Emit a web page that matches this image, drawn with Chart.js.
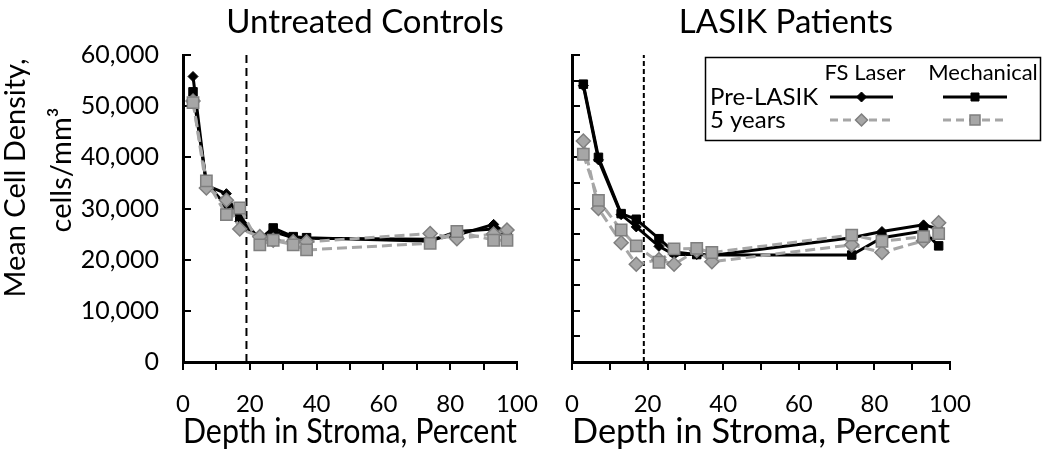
<!DOCTYPE html>
<html>
<head>
<meta charset="utf-8">
<script src="https://cdn.jsdelivr.net/npm/chart.js@4.4.1/dist/chart.umd.min.js"></script>
<style>
  body { margin: 0; background: #fff; }
  #wrap { position: relative; width: 1050px; height: 453px; }
  #left { position: absolute; left: 0; top: 0; }
  #right { position: absolute; left: 540px; top: 0; }
</style>
</head>
<body>
<div id="wrap">
  <canvas id="left" width="540" height="453"></canvas>
  <canvas id="right" width="510" height="453"></canvas>
</div>
<script>
// depth in stroma (%) where cell density was sampled
const depths = [3, 7, 13, 17, 23, 27, 33, 37, 74, 82, 93, 97];

// Untreated controls
const ctrlFsPre    = [55800, 34500, 32900, 27500, 23800, 25500, 24300, 24200, 24000, 24800, 26900, 25000];
const ctrlFsFive   = [51000, 34000, 31600, 26000, 24500, 23800, 23500, 23500, 25100, 24100, 25000, 25800];
const ctrlMechPre  = [52800, 35000, 30500, 28400, 24000, 26200, 24500, 24300, 23600, 25500, 26000, 24200];
const ctrlMechFive = [50700, 35400, 28800, 30100, 22900, 23800, 22900, 21900, 23200, 25500, 23800, 23800];

// LASIK patients
const lasikFsPre    = [54000, 39500, 28800, 26400, 22600, 21000, 21000, 20800, 24300, 25500, 26800, 26000];
const lasikFsFive   = [43200, 30000, 23300, 19100, 20000, 19100, 21800, 19600, 22900, 21400, 23700, 27200];
const lasikMechPre  = [54300, 40000, 29000, 27900, 24100, 21500, 21000, 20900, 20900, 24300, 25600, 22700];
const lasikMechFive = [40600, 31600, 25800, 22700, 19500, 22100, 22200, 21400, 24800, 23600, 24500, 25100];

// dashed reference line at ~19% depth
const refDepth = 19;
const yMax = 60000;

const FONT = 'Lato, "DejaVu Sans", sans-serif';
const GRAY = '#a6a6a6';
const GRAY_EDGE = '#7f7f7f';

function pts(vals) {
  return vals.map((v, i) => ({ x: depths[i], y: v }));
}

function buildDatasets(fsPre, fsFive, mechPre, mechFive, refDash) {
  return [
    { label: 'Mechanical 5 years', data: pts(mechFive), order: 1,
      borderColor: GRAY, borderWidth: 3, borderDash: [10, 5],
      pointStyle: 'rect', pointRadius: 8, pointBackgroundColor: GRAY,
      pointBorderColor: GRAY_EDGE, pointBorderWidth: 1.5 },
    { label: 'FS Laser 5 years', data: pts(fsFive), order: 2,
      borderColor: GRAY, borderWidth: 3, borderDash: [10, 5],
      pointStyle: 'rectRot', pointRadius: 7, pointBackgroundColor: GRAY,
      pointBorderColor: GRAY_EDGE, pointBorderWidth: 1.5 },
    { label: 'Mechanical Pre-LASIK', data: pts(mechPre), order: 3,
      borderColor: '#000', borderWidth: 3,
      pointStyle: 'rect', pointRadius: 6, pointBackgroundColor: '#000',
      pointBorderColor: '#000', pointBorderWidth: 1 },
    { label: 'FS Laser Pre-LASIK', data: pts(fsPre), order: 4,
      borderColor: '#000', borderWidth: 3,
      pointStyle: 'rectRot', pointRadius: 5, pointBackgroundColor: '#000',
      pointBorderColor: '#000', pointBorderWidth: 1 },
    { label: 'ref', data: [{ x: refDepth, y: 0 }, { x: refDepth, y: yMax }], order: 5,
      borderColor: '#000', borderWidth: 2, borderDash: refDash, pointRadius: 0 }
  ];
}

// y ticks point inward in the original
const innerTicks = {
  id: 'innerTicks',
  beforeDatasetsDraw(chart) {
    const ctx = chart.ctx, y = chart.scales.y, left = chart.chartArea.left;
    ctx.save();
    ctx.strokeStyle = '#000';
    ctx.lineWidth = 2;
    y.ticks.forEach(t => {
      const py = Math.round(y.getPixelForValue(t.value));
      ctx.beginPath();
      ctx.moveTo(left, py);
      ctx.lineTo(left + 8, py);
      ctx.stroke();
    });
    ctx.restore();
  }
};

function text(ctx, str, x, y, size, align) {
  ctx.font = size + 'px ' + FONT;
  ctx.fillStyle = '#000';
  ctx.textAlign = align || 'center';
  ctx.textBaseline = 'middle';
  ctx.fillText(str, x, y);
}

const leftDecor = {
  id: 'leftDecor',
  afterDraw(chart) {
    const ctx = chart.ctx;
    ctx.save();
    text(ctx, 'Untreated Controls', 365, 22, 33);
    ctx.translate(16, 178);
    ctx.rotate(-Math.PI / 2);
    text(ctx, 'Mean Cell Density,', 0, 0, 29);
    ctx.restore();
    ctx.save();
    ctx.translate(62, 170);
    ctx.rotate(-Math.PI / 2);
    text(ctx, 'cells/mm³', 0, 0, 29);
    ctx.restore();
  }
};

function sample(ctx, x1, x2, y, gray, shape) {
  ctx.save();
  ctx.strokeStyle = gray ? GRAY : '#000';
  ctx.lineWidth = 3;
  ctx.setLineDash(gray ? [8, 5] : []);
  ctx.beginPath();
  ctx.moveTo(x1, y);
  ctx.lineTo(x2, y);
  ctx.stroke();
  ctx.setLineDash([]);
  const cx = (x1 + x2) / 2;
  ctx.fillStyle = gray ? GRAY : '#000';
  ctx.strokeStyle = gray ? GRAY_EDGE : '#000';
  ctx.lineWidth = gray ? 1.5 : 1;
  ctx.beginPath();
  if (shape === 'diamond') {
    const r = gray ? 6 : 5;
    ctx.moveTo(cx, y - r); ctx.lineTo(cx + r, y); ctx.lineTo(cx, y + r); ctx.lineTo(cx - r, y);
    ctx.closePath();
  } else {
    const h = gray ? 5 : 4;
    ctx.rect(cx - h, y - h, 2 * h, 2 * h);
  }
  ctx.fill();
  ctx.stroke();
  ctx.restore();
}

const rightDecor = {
  id: 'rightDecor',
  afterDraw(chart) {
    const ctx = chart.ctx;
    ctx.save();
    text(ctx, 'LASIK Patients', 246, 22, 33);
    // legend box
    ctx.strokeStyle = '#000';
    ctx.lineWidth = 1.5;
    ctx.strokeRect(165.5, 57.5, 335, 83);
    text(ctx, 'FS Laser', 325, 73, 22);
    text(ctx, 'Mechanical', 443, 73, 22);
    text(ctx, 'Pre-LASIK', 170, 97, 24, 'left');
    text(ctx, '5 years', 170, 120, 24, 'left');
    sample(ctx, 290, 353, 97, false, 'diamond');
    sample(ctx, 403, 467, 97, false, 'square');
    sample(ctx, 290, 353, 120, true, 'diamond');
    sample(ctx, 403, 467, 120, true, 'square');
    ctx.restore();
  }
};

function makeOptions(yWidth, padRight, showYLabels) {
  return {
    responsive: false,
    animation: false,
    layout: { padding: { top: 55, right: padRight, left: 0, bottom: 0 } },
    plugins: { legend: { display: false }, tooltip: { enabled: false } },
    scales: {
      x: {
        type: 'linear', min: 0, max: 100,
        ticks: {
          stepSize: 10, autoSkip: false, maxRotation: 0, padding: 20, color: '#000',
          font: { family: FONT, size: 24 },
          callback: v => (v % 20 === 0 ? v : '')
        },
        grid: { drawOnChartArea: false, color: '#000', lineWidth: 2, tickLength: 8 },
        border: { color: '#000', width: 3 },
        title: {
          display: true, text: 'Depth in Stroma, Percent', color: '#000',
          font: { family: FONT, size: 35 }, padding: { top: 0, bottom: 0 }
        },
        afterFit: s => { s.height = 91; s.paddingLeft = 0; s.paddingRight = 0; }
      },
      y: {
        min: 0, max: yMax,
        ticks: {
          stepSize: 5000, display: showYLabels, padding: 24, color: '#000',
          font: { family: FONT, size: 25 },
          callback: v => (v % 10000 === 0 ? v.toLocaleString('en-US') : '')
        },
        grid: { drawOnChartArea: false, drawTicks: false, color: '#000' },
        border: { color: '#000', width: 3 },
        afterFit: s => { s.width = yWidth; s.paddingTop = 0; s.paddingBottom = 0; }
      }
    }
  };
}

new Chart(document.getElementById('left'), {
  type: 'line',
  data: { datasets: buildDatasets(ctrlFsPre, ctrlFsFive, ctrlMechPre, ctrlMechFive, [8, 5]) },
  options: makeOptions(183, 23, true),
  plugins: [innerTicks, leftDecor]
});

new Chart(document.getElementById('right'), {
  type: 'line',
  data: { datasets: buildDatasets(lasikFsPre, lasikFsFive, lasikMechPre, lasikMechFive, [5, 3]) },
  options: makeOptions(32, 100, false),
  plugins: [innerTicks, rightDecor]
});
</script>
</body>
</html>
